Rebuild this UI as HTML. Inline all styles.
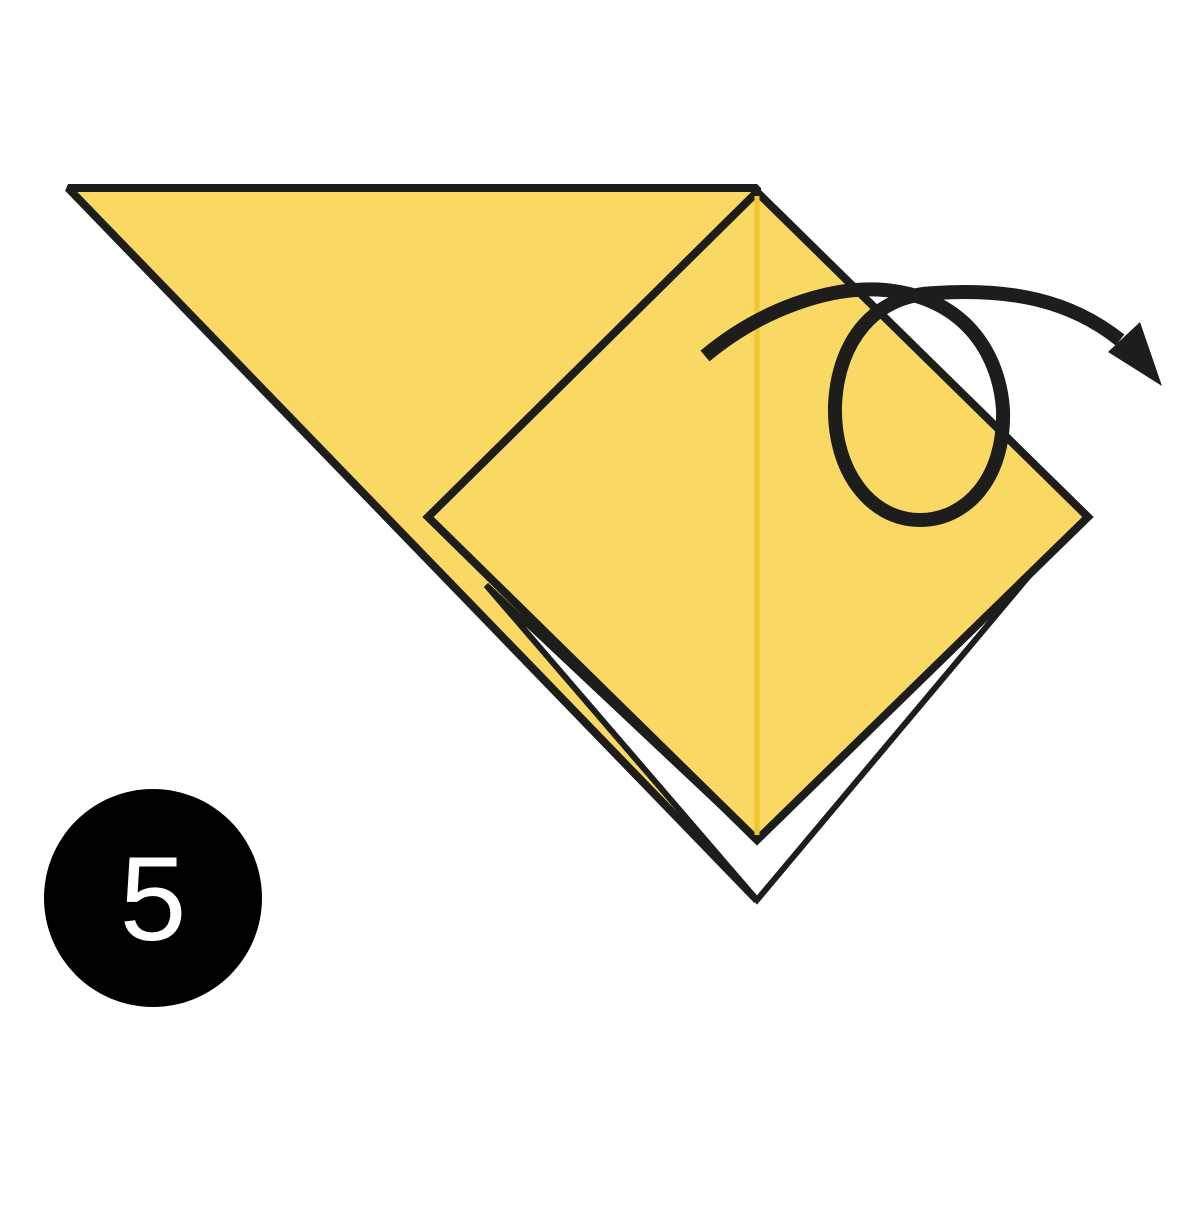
<!DOCTYPE html>
<html><head><meta charset="utf-8"><style>html,body{margin:0;padding:0;background:#fff}</style></head>
<body>
<svg width="1200" height="1200" viewBox="0 0 1200 1200" xmlns="http://www.w3.org/2000/svg">
  <rect x="0" y="0" width="1200" height="1200" fill="#fff"/>
  <polygon points="68,188 757,188 757,900" fill="#F9D964" stroke="#1d1d1b" stroke-width="8" stroke-linejoin="bevel"/>
  <polygon points="486,585 757,900 1034,570 757,840" fill="#fff" stroke="#1d1d1b" stroke-width="6" stroke-linejoin="miter"/>
  <polygon points="757,192 428,517 757,840 1088,517" fill="#F9D964" stroke="#1d1d1b" stroke-width="8" stroke-linejoin="miter"/>
  <line x1="757" y1="196" x2="757" y2="835" stroke="#F2C52B" stroke-width="5"/>
  <path d="M705,356 C760,310 830,285 885,290 C970,298 1000,360 1003,410 C1005,480 965,520 920,520 C870,520 833,470 835,405 C838,340 875,295 935,293 C1010,288 1070,300 1120,340" fill="none" stroke="#1d1d1b" stroke-width="14"/>
  <polygon points="1140,322 1162,386 1108,352" fill="#1d1d1b"/>
  <circle cx="153" cy="898" r="109" fill="#000"/>
  <text x="153" y="940" text-anchor="middle" font-family="Liberation Sans, sans-serif" font-size="120" fill="#fff">5</text>
</svg>
</body></html>
